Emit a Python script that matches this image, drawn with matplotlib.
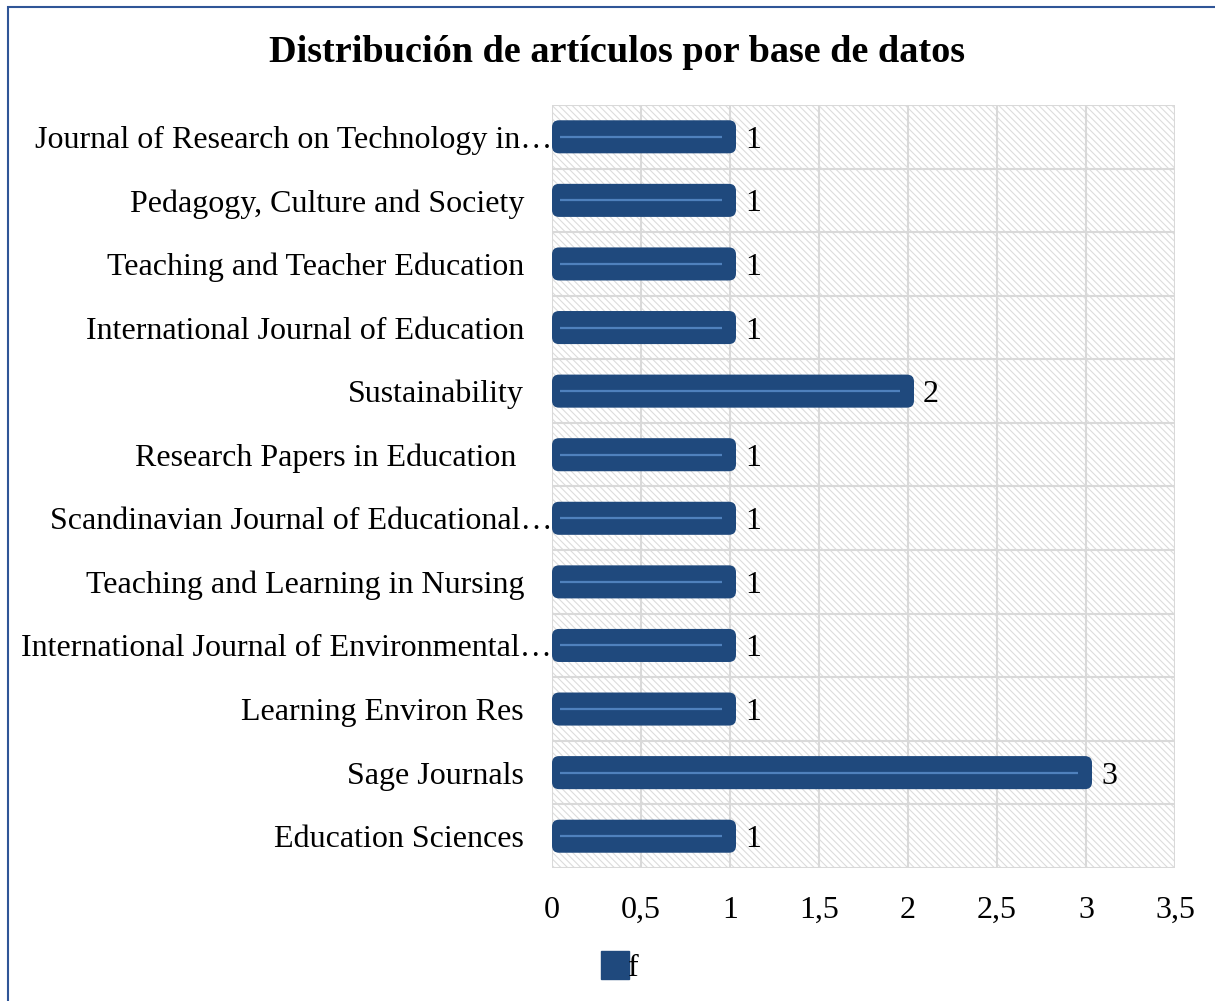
import numpy as np
import matplotlib
matplotlib.use("Agg")
import matplotlib.pyplot as plt
from matplotlib.patches import FancyBboxPatch, Rectangle
from matplotlib.lines import Line2D
from matplotlib.ticker import FuncFormatter

plt.rcParams['font.family'] = ['Liberation Serif', 'DejaVu Serif']
plt.rcParams['hatch.color'] = '#d9d9d9'
plt.rcParams['hatch.linewidth'] = 0.8

# data (top to bottom as shown)
journals = [
    "Journal of Research on Technology in…",
    "Pedagogy, Culture and Society",
    "Teaching and Teacher Education",
    "International Journal of Education",
    "Sustainability",
    "Research Papers in Education ",
    "Scandinavian Journal of Educational…",
    "Teaching and Learning in Nursing",
    "International Journal of Environmental…",
    "Learning Environ Res",
    "Sage Journals",
    "Education Sciences",
]
counts = [1, 1, 1, 1, 2, 1, 1, 1, 1, 1, 3, 1]
series_name = "f"

bar_color = '#1f497d'
line_color = '#4f81bd'
grid_color = '#d9d9d9'
fs = 23

fig = plt.figure(figsize=(12.15, 10.01), dpi=100)
ax = fig.add_axes([552 / 1215, 1 - 868 / 1001, 623 / 1215, 763 / 1001])

n = len(journals)
ypos = np.arange(n)[::-1]  # first item on top
bar_h = 0.52

ax.set_xlim(0, 3.5)
ax.set_ylim(-0.5, n - 0.5)

# hatched plot background
ax.patch.set_facecolor('white')
ax.add_patch(Rectangle((0, -0.5), 3.5, n, facecolor='none', hatch='\\' * 5,
                       edgecolor='#dcdcdc', linewidth=0, zorder=0))

# grid
for xv in np.arange(0.5, 3.51, 0.5):
    ax.axvline(xv, color=grid_color, lw=1.5, zorder=1)
for yv in np.arange(-0.5, n, 1.0):
    ax.axhline(yv, color=grid_color, lw=1.5, zorder=1)

# rounded bars
px_x = 623 / 3.5
px_y = 763 / n
r = 7 / px_x
ext = 6 / px_x
for y, v in zip(ypos, counts):
    p = FancyBboxPatch((0, y - bar_h / 2), v + ext, bar_h,
                       boxstyle=f"round,pad=0,rounding_size={r}",
                       mutation_aspect=px_x / px_y,
                       facecolor=bar_color, edgecolor='none', zorder=3)
    ax.add_patch(p)
    ax.plot([0.045, v - 0.045], [y, y], color=line_color, lw=1.6, zorder=4,
            solid_capstyle='butt')
    ax.text(v + ext + 9 / px_x, y, str(v), va='center_baseline', ha='left',
            fontsize=fs, color='black', zorder=5)

# category labels (truncated ones run up to the axis)
ax.set_yticks([])
for y, name in zip(ypos, journals):
    xoff = 0.0 if name.endswith('…') else -28 / 623
    ax.text(xoff, y, name, transform=ax.get_yaxis_transform(),
            ha='right', va='center_baseline', fontsize=fs, zorder=6, clip_on=False)

ax.set_xticks(np.arange(0, 3.51, 0.5))
ax.xaxis.set_major_formatter(FuncFormatter(
    lambda x, pos: (f"{x:g}").replace('.', ',')))
ax.tick_params(axis='x', labelsize=fs, length=0, pad=20)
for s in ax.spines.values():
    s.set_visible(False)
ax.axvline(0, color=grid_color, lw=1.5, zorder=2)

fig.suptitle("Distribución de artículos por base de datos", fontsize=27.5,
             fontweight='bold', x=617 / 1215, y=1 - 53 / 1001, va='center')

handle = Line2D([], [], marker='s', markersize=20, color=bar_color, lw=0,
                markeredgecolor=bar_color)
fig.legend([handle], [series_name], loc='center', bbox_to_anchor=(617 / 1215, 1 - 968 / 1001),
           frameon=False, fontsize=fs, handletextpad=-0.2, handlelength=1.2)

# outer border (left and top visible)
fig.add_artist(Rectangle((8 / 1215, -0.05), 1.2, 1 - 7 / 1001 + 0.05,
                         transform=fig.transFigure, fill=False,
                         edgecolor='#2f5597', lw=1.5))

fig.savefig("out.png", dpi=100)
